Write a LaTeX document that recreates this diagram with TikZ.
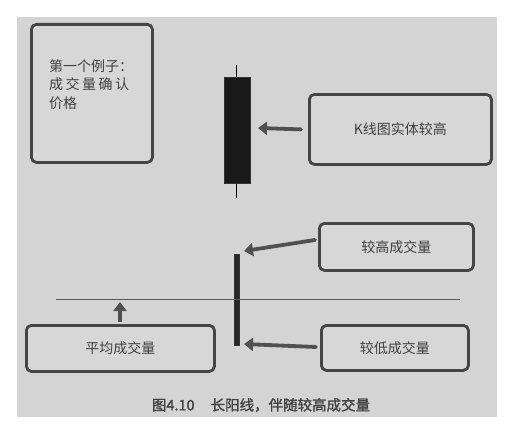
\documentclass[tikz,border=0pt]{standalone}
\usepackage{fontspec}
\newfontfamily\cjk{Noto Sans CJK SC}
\newfontfamily\cjkb[FakeBold=1.2]{Noto Sans CJK SC}
\usetikzlibrary{arrows.meta}
\definecolor{panel}{HTML}{D4D4D4}
\definecolor{boxfill}{HTML}{D7D7D7}
\definecolor{edge}{HTML}{454545}
\definecolor{arr}{HTML}{505050}
\definecolor{txt}{HTML}{404040}
\tikzset{
  box/.style={draw=edge, line width=2.8pt, rounded corners=5pt, fill=boxfill,
    anchor=north west, inner sep=0pt, text=txt},
  boxtext/.style={font=\cjk\fontsize{14}{17}\selectfont, text=txt},
  fatarrow/.style={draw=arr, line width=3.8pt, line cap=round,
    -{Triangle[length=9pt,width=13pt]}},
}
\begin{document}
\begin{tikzpicture}[x=1pt,y=-1pt]
\useasboundingbox (0,0) rectangle (510,425);
\fill[white] (0,0) rectangle (510,425);
\fill[panel] (17,17) rectangle (497,417);
% boxes
\node[box, minimum width=121pt, minimum height=138pt] (ex) at (30,23) {};
\node[anchor=north west, inner sep=0pt, align=left, text=txt,
  font=\cjk\fontsize{14}{18.5}\selectfont] (extxt) at (49,59)
  {第一个例子：\\成\hspace{2.5pt}交\hspace{2.5pt}量\hspace{2.5pt}确\hspace{2.5pt}认\\价格};
\node[box, minimum width=182pt, minimum height=70pt] (kbox) at (308,93) {};
\node[boxtext] (ktxt) at (kbox.center) {K线图实体较高};
\node[box, minimum width=154pt, minimum height=47pt] (hi) at (318,222) {};
\node[boxtext] (hitxt) at (hi.center) {较高成交量};
\node[box, minimum width=188pt, minimum height=46pt] (avg) at (25,324) {};
\node[boxtext] (avgtxt) at (avg.center) {平均成交量};
\node[box, minimum width=147pt, minimum height=45pt] (lo) at (320,324) {};
\node[boxtext] (lotxt) at (lo.center) {较低成交量};
% candle
\coordinate (wtop) at (236.5,65);
\coordinate (wbot) at (236.5,198);
\draw[line width=1.4pt, black] (wtop) -- (wbot);
\node[draw=black!80, fill=black!90, line width=1pt, anchor=north west, inner sep=0pt,
  minimum width=26pt, minimum height=106pt] (body) at (223.5,77) {};
% volume bar
\node[draw=black!80, fill=black!85, line width=1pt, anchor=north west, inner sep=0pt,
  minimum width=5pt, minimum height=91pt] (vol) at (234,254) {};
% average line
\coordinate (l1) at (56,299);
\coordinate (l2) at (460,299);
\draw[line width=0.9pt, black!65] (l1) -- (l2);
% arrows
\coordinate (khead) at (258,128);
\draw[fatarrow] ([xshift=-7pt]kbox.west) -- (khead);
\coordinate (hitail) at (315,240);
\coordinate (hihead) at (244,251);
\draw[fatarrow] (hitail) -- (hihead);
\coordinate (lotail) at (316,347);
\coordinate (lohead) at (244,344);
\draw[fatarrow] (lotail) -- (lohead);
\coordinate (uptail) at (120,322);
\coordinate (uphead) at (120,302);
\draw[fatarrow, line cap=butt] (uptail) -- (uphead);
% caption
\node[font=\cjkb\fontsize{14.5}{17}\selectfont, text=black!75] (cap) at (261,405)
  {图4.10\hspace{16pt}长阳线，伴随较高成交量};
\end{tikzpicture}
\end{document}
